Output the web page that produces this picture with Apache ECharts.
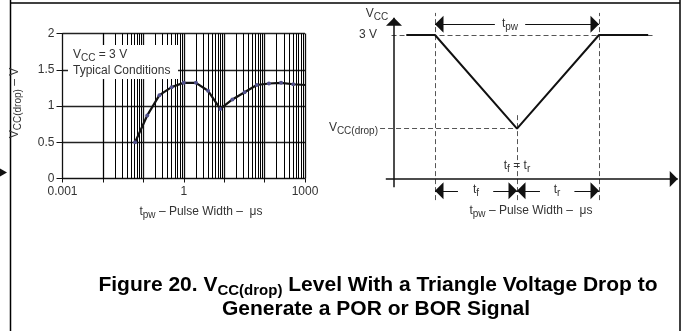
<!DOCTYPE html>
<html>
<head>
<meta charset="utf-8">
<script src="https://cdn.jsdelivr.net/npm/echarts@6/dist/echarts.min.js"></script>
<style>
  html, body { margin: 0; padding: 0; background: #fff; }
  #chart { width: 683px; height: 331px; }
</style>
</head>
<body>
<div id="chart"></div>
<script>
// Measured V_CC(drop) versus pulse width, V_CC = 3 V, typical conditions
const pulseWidthUs = [0.0625, 0.125, 0.25, 0.5, 1, 2, 4, 8, 16, 32, 64, 128, 256, 512, 1024];
const vccDropV     = [0.5, 0.87, 1.15, 1.26, 1.32, 1.32, 1.21, 0.96, 1.09, 1.19, 1.29, 1.31, 1.32, 1.30, 1.29];

// Axis ticks of the measured curve
const yTickValues = [0, 0.5, 1, 1.5, 2];
const xTickLabels = ['0.001', '1', '1000'];

// Log grid: one line per mantissa inside each decade
const gridDecades = [0.001, 0.01, 0.1, 1, 10, 100];
const gridMantissas = [2, 3, 4, 5, 6, 7, 8, 9];

// Triangle drop schematic: time in units of t_f, level in volts
const pulseTime  = [0.15, 0.5, 1.5, 2.5, 3.1];
const pulseLevel = [3, 3, 1.05, 3, 3];
const nominalV = 3;
const dropV = 1.05;
const tFallStart = 0.5, tBottom = 1.5, tRiseEnd = 2.5;

const FONT = '"Liberation Sans", Arial, Helvetica, sans-serif';
const TXT = '#333';

const chart = echarts.init(document.getElementById('chart'));

const minorGrid = [];
gridDecades.forEach(d => gridMantissas.forEach(m => minorGrid.push({ xAxis: +(d * m).toPrecision(6) })));

// Arrow head whose tip sits on the line end point
const ARROW = 'path://M0,10L4,20L-4,20ZM0,0';

// Schematic guide lines (dashed)
const guideLines = [
  [[-0.03, nominalV], [3.18, nominalV]],
  [[-0.17, dropV], [tBottom, dropV]],
  [[tFallStart, -0.44], [tFallStart, 3.46]],
  [[tRiseEnd, -0.44], [tRiseEnd, 3.46]],
  [[tBottom, -0.44], [tBottom, 1.33]]
];
// Schematic coordinate axes
const axisArrows = [
  [[0, -0.17], [0, 3.36]],
  [[-0.1, 0], [3.46, 0]]
];
// Dimension arrows for t_pw, t_f and t_r
const dimY = -0.245, pwY = 3.223;
const dimArrows = [
  [[1.23, pwY], [tFallStart, pwY]],
  [[1.6, pwY], [tRiseEnd, pwY]],
  [[0.78, dimY], [tFallStart, dimY]],
  [[1.21, dimY], [tBottom, dimY]],
  [[1.78, dimY], [tBottom, dimY]],
  [[2.2, dimY], [tRiseEnd, dimY]]
];

function subRich(size, subSize, color, weight) {
  return {
    n: { fontSize: size, fontFamily: FONT, color: color, fontWeight: weight || 'normal', lineHeight: size + 5 },
    s: { fontSize: subSize, fontFamily: FONT, color: color, fontWeight: weight || 'normal', lineHeight: subSize, verticalAlign: 'bottom' }
  };
}
function label(x, y, text, opts) {
  opts = opts || {};
  const size = opts.size || 12;
  return {
    type: 'text', x: x, y: y, z: 20, rotation: opts.rotation || 0,
    style: {
      text: text, align: opts.align || 'center', verticalAlign: 'middle',
      font: (opts.weight || 'normal') + ' ' + size + 'px ' + FONT,
      fill: opts.color || TXT,
      rich: subRich(size, opts.subSize || 10, opts.color || TXT, opts.weight)
    }
  };
}

const option = {
  animation: false,
  backgroundColor: '#fff',
  grid: [
    { left: 62.5, right: 378, top: 33.5, bottom: 152.5 },
    { left: 369.4, right: 2, top: 6.2, bottom: 128 }
  ],
  xAxis: [
    {
      gridIndex: 0, type: 'log', logBase: 10, min: 0.001, max: 1000,
      axisLine: { lineStyle: { color: '#111', width: 1 } },
      axisTick: { show: true, length: 4, lineStyle: { color: '#111' } },
      axisLabel: {
        margin: 7, fontSize: 12, fontFamily: FONT, color: TXT,
        formatter: v => {
          const hit = xTickLabels.find(s => Math.abs(Number(s) - v) <= 1e-9 * Math.max(1, v));
          return hit || '';
        }
      },
      splitLine: { show: true, lineStyle: { color: '#111', width: 1.3 } }
    },
    { gridIndex: 1, type: 'value', min: -0.3, max: 3.5, show: false }
  ],
  yAxis: [
    {
      gridIndex: 0, type: 'value', min: yTickValues[0], max: yTickValues[yTickValues.length - 1],
      interval: yTickValues[1] - yTickValues[0],
      axisLine: { show: true, lineStyle: { color: '#111', width: 1 } },
      axisTick: { show: true, length: 6, lineStyle: { color: '#111' } },
      axisLabel: { margin: 8, fontSize: 12, fontFamily: FONT, color: TXT },
      splitLine: { show: true, lineStyle: { color: '#222', width: 1.3 } }
    },
    { gridIndex: 1, type: 'value', min: -0.5, max: 3.6, show: false }
  ],
  series: [
    {
      name: 'VCC(drop)', type: 'line', xAxisIndex: 0, yAxisIndex: 0, z: 4,
      data: pulseWidthUs.map((t, i) => [t, vccDropV[i]]),
      symbol: 'circle', symbolSize: 4, showAllSymbol: true,
      itemStyle: { color: '#50508a' },
      lineStyle: { color: '#111', width: 2.2 },
      markLine: {
        silent: true, z: 1, symbol: ['none', 'none'], label: { show: false },
        lineStyle: { color: '#000', width: 1, type: 'solid' },
        emphasis: { disabled: true },
        data: minorGrid
      }
    },
    {
      name: 'pulse', type: 'line', xAxisIndex: 1, yAxisIndex: 1, z: 4,
      data: pulseTime.map((t, i) => [t, pulseLevel[i]]),
      symbol: 'none', lineStyle: { color: '#111', width: 2 }
    },
    {
      name: 'guides', type: 'lines', coordinateSystem: 'cartesian2d', xAxisIndex: 1, yAxisIndex: 1, z: 2,
      symbol: ['none', 'none'],
      lineStyle: { color: '#555', width: 1, type: [5, 3], opacity: 1 },
      data: guideLines.map(c => ({ coords: c }))
    },
    {
      name: 'axes', type: 'lines', coordinateSystem: 'cartesian2d', xAxisIndex: 1, yAxisIndex: 1, z: 3,
      symbol: ['none', ARROW], symbolSize: [7, 16],
      lineStyle: { color: '#111', width: 1.5, opacity: 1 },
      itemStyle: { color: '#111' },
      data: axisArrows.map(c => ({ coords: c }))
    },
    {
      name: 'dims', type: 'lines', coordinateSystem: 'cartesian2d', xAxisIndex: 1, yAxisIndex: 1, z: 3,
      symbol: ['none', ARROW], symbolSize: [7, 17],
      lineStyle: { color: '#111', width: 1, opacity: 1 },
      itemStyle: { color: '#111' },
      data: dimArrows.map(c => ({ coords: c }))
    }
  ],
  graphic: { elements: [
    // page frame
    { type: 'line', z: 20, shape: { x1: 10.5, y1: 0, x2: 10.5, y2: 331 }, style: { stroke: '#000', lineWidth: 1.5 } },
    { type: 'line', z: 20, shape: { x1: 10.5, y1: 3, x2: 680, y2: 3 }, style: { stroke: '#000', lineWidth: 1.5 } },
    { type: 'line', z: 20, shape: { x1: 680, y1: 0, x2: 680, y2: 331 }, style: { stroke: '#000', lineWidth: 1.5 } },
    { type: 'polygon', z: 20, shape: { points: [[0, 168.5], [7, 172.5], [0, 176.5]] }, style: { fill: '#111' } },

    // condition box on the curve plot
    { type: 'rect', z: 15, shape: { x: 68, y: 45, width: 110, height: 34 }, style: { fill: '#fff' } },
    label(73, 55, '{n|V}{s|CC}{n| = 3 V}', { align: 'left' }),
    label(73, 71, 'Typical Conditions', { align: 'left' }),

    // curve plot axis names
    label(15, 103, '{n|V}{s|CC(drop)}{n| – V}', { rotation: Math.PI / 2 }),
    label(201, 212, '{n|t}{s|pw}{n| – Pulse Width –  μs}'),

    // schematic labels
    label(377, 14, '{n|V}{s|CC}'),
    label(368, 35, '3 V'),
    label(378, 128, '{n|V}{s|CC(drop)}', { align: 'right' }),
    label(510, 24, '{n|t}{s|pw}'),
    label(517, 166, '{n|t}{s|f}{n| = t}{s|r}'),
    label(476, 190, '{n|t}{s|f}'),
    label(557, 190, '{n|t}{s|r}'),
    label(531, 211, '{n|t}{s|pw}{n| – Pulse Width –  μs}'),

    // figure caption
    label(378, 285, '{n|Figure 20. V}{s|CC(drop)}{n| Level With a Triangle Voltage Drop to}',
      { size: 21, subSize: 15, weight: 'bold', color: '#000' }),
    label(376, 309, 'Generate a POR or BOR Signal', { size: 21, weight: 'bold', color: '#000' })
  ] }
};

chart.setOption(option);
</script>
</body>
</html>
